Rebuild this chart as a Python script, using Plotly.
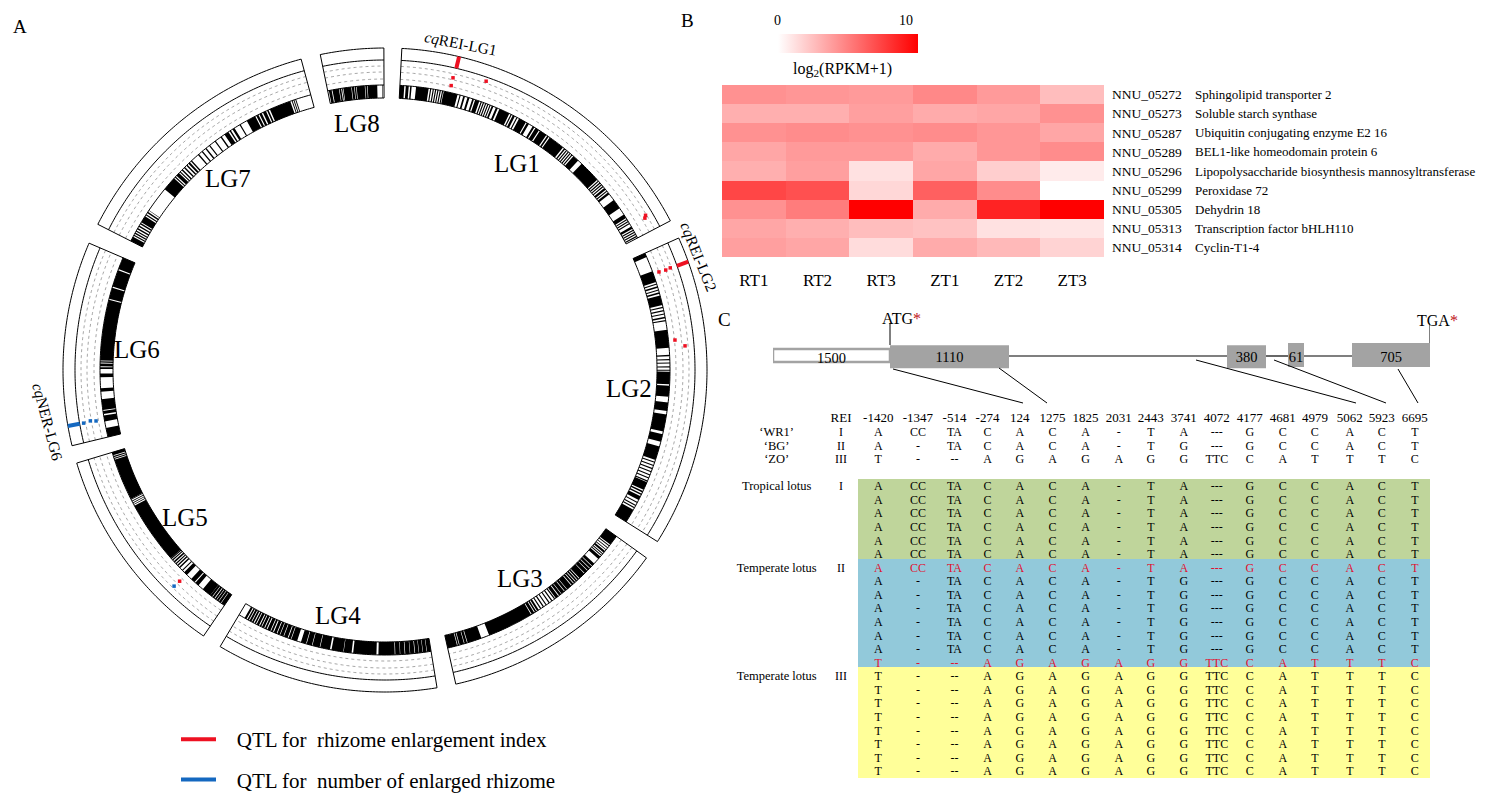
import numpy as np
import plotly.graph_objects as go

W, H = 1501, 805
SERIF = "Liberation Serif"
def px(x): return x / W
def py(y): return 1 - y / H

# ---------- Panel A data ----------
lg_names = ["LG1", "LG2", "LG3", "LG4", "LG5", "LG6", "LG7", "LG8"]
lg_start = [3.0, 65.8, 125.7, 170.7, 214.3, 256.4, 296.9, 348.4]
lg_end = [62.4, 122.2, 167.3, 210.8, 253.2, 293.2, 344.9, 359.8]

# marker blocks along each linkage group, percent of its length
lg1_blocks = [(0,1.5),(2,3),(3.5,4),(5.5,9.8),(10.3,10.7),(11.2,11.6),(12,12.4),(12.8,13.2),(13.6,14),(14.4,14.8),
 (15,19.8),(20.5,20.9),(21.8,22.4),(23.3,24),(25,25.6),(26,27.5),(28,28.4),(28.8,29.2),(29.6,30),(30.4,30.8),
 (31.2,31.6),(32,32.6),(33.5,34.2),(34.8,38.5),(39,39.4),(39.8,40.6),(41.2,41.6),(42.2,44.8),(45.2,46),(47.5,48.2),
 (48.6,50),(50.4,53),(53.4,54),(54.4,60),(60.5,61),(61.4,61.8),(62.2,62.6),(63,63.4),(63.8,64.2),(64.6,66.8),
 (68.4,76),(76.4,76.8),(77.2,77.6),(78,78.4),(78.8,79.2),(79.6,80.4),(80.8,81.2),(81.6,82.4),(84.8,88.2),
 (90.8,92.2),(92.6,93),(93.4,93.8),(94.2,94.6),(95.6,96.4),(96.8,97.2),(97.6,98),(98.4,98.8),(99.2,99.6)]
lg2_blocks = [(0,1.5),(7,11),(11.6,12),(12.6,13.2),(13.8,14.2),(14.8,15.4),(16,19.5),(20.2,20.6),(21.4,21.8),(22.6,23),
 (23.8,24.4),(25,25.4),(28.5,35),(37.5,38),(39,39.4),(40.2,40.6),(41.6,42),(42.8,43.2),(43.5,48),(48.5,52.5),
 (54.5,57.6),(58.8,65),(66,68.8),(70.5,75.5),(76.2,76.6),(77.4,77.8),(78.6,79),(79.8,80.2),(81,81.4),(82.2,82.6),
 (83.4,83.8),(84,87),(87.5,88),(88.5,89),(89.5,91),(91.8,92.2),(93,93.4),(94,94.4),(95,100)]
lg3_blocks = [(0,5),(5.5,6),(6.8,7.2),(8,8.4),(9,10),(10.5,11),(11.5,12),(12.5,14),(17,18.5),(18.8,20),(20.3,21.5),(21.8,23.5),
 (23.8,27),(27.4,28.2),(28.6,29.4),(29.8,30.6),(31,32),(32.4,35),(35.3,36.5),(36.8,38.5),(38.8,40),(40.4,42),(42.4,43),
 (44,44.6),(45.6,46.2),(47.4,48),(49,49.6),(50.6,51.2),(52,53),(53.4,54.2),(54.6,56),(56.4,79),(83,90),(90.3,91.5),
 (91.8,94),(94.3,95),(95.3,100)]
lg4_blocks = [(0,2),(2.2,4),(4.2,6),(6.2,8),(8.3,10.5),(10.7,13),(13.3,15.5),(15.7,18),(18.3,26.5),(27.5,39.2),(40,44),(44.2,50.2),(51,56),
 (56.3,60),(60.3,63),(63.3,66),(68,71),(71.3,72.6),(73,75),(75.3,77),(77.3,78.6),(79,80.5),(81,82),(82.4,84),(84.5,85.4),
 (85.8,87),(87.4,88.2),(88.7,90),(90.4,91.2),(91.7,92.6),(93,94),(94.4,95.2),(95.7,96.8)]
lg5_blocks = [(0,2),(2.3,3.5),(3.8,4.8),(5.1,6),(6.4,7.5),(7.8,9),(9,14),(17,19),(19.6,22),(25,27),(28,28.6),(30,30.8),
 (31.5,32.2),(32.8,33.4),(34,34.8),(35.4,36),(36.4,37),(37,70),(70.6,71),(71.6,72),(72.6,73),(73.6,74),(74,96),(96.4,97),(97.4,98),(98.4,100)]
lg6_blocks = [(0,5),(8.7,12),(12.8,14.5),(15,21),(25,27),(33,35),(37.5,38.5),(39,40.5),(41,41.8),(42.2,75.7),(76.3,82.6),
 (83.2,92.7),(93.3,100)]
lg7_blocks = [(0,2),(2.5,3),(3.4,4),(4.5,5),(5.6,6.2),(6.8,7.4),(8,8.6),(9,12),(12.5,13),(13.6,14.2),(14.8,15),(26,32),
 (32.5,33),(33.5,35),(35.5,36),(36.6,37.2),(38,38.6),(39.4,40),(40.6,41.4),(42,42.6),(46,46.6),(48,48.6),(50,50.6),
 (52,52.5),(55,55.5),(58,58.6),(60,62),(62.6,63.2),(64,65),(67.5,68),(71,75),(75.5,76.5),(77,78),(78.6,80),(80.5,81.2),
 (81.8,91),(91.6,92),(92.4,92.8),(93.2,93.6)]
lg8_blocks = [(2,7),(8.5,20),(21,24),(25.5,27),(28,42),(43,47),(48,50.5),(51.5,66),(67,70),(71,88),(97,98)]
all_blocks = [lg1_blocks, lg2_blocks, lg3_blocks, lg4_blocks, lg5_blocks, lg6_blocks, lg7_blocks, lg8_blocks]

# QTL marks: angle, inner radius, outer radius
rei_track_theta = [13.3, 70.35]
rei_track_r0 = [310, 310]
rei_track_r1 = [322, 322]
ner_track_theta = [260.0]
ner_track_r0 = [310]
ner_track_r1 = [322]
rei_dot_theta = [13.1, 13.1, 19.3, 59.3, 59.7, 70.3, 70.4, 70.3, 84.1, 85.4, 224.2]
rei_dot_r = [300, 292, 306, 303, 301, 303, 298, 291, 291.5, 301, 294.6]
ner_dot_theta = [260.0, 260.2, 260.0, 224.3]
ner_dot_r = [306, 299, 293.4, 302]

# ---------- Panel B data ----------
samples = ["RT1", "RT2", "RT3", "ZT1", "ZT2", "ZT3"]
gene_ids = ["NNU_05272", "NNU_05273", "NNU_05287", "NNU_05289", "NNU_05296", "NNU_05299", "NNU_05305", "NNU_05313", "NNU_05314"]
gene_names = ["Sphingolipid transporter 2", "Soluble starch synthase", "Ubiquitin conjugating enzyme E2 16",
              "BEL1-like homeodomain protein 6", "Lipopolysaccharide biosynthesis mannosyltransferase",
              "Peroxidase 72", "Dehydrin 18", "Transcription factor bHLH110", "Cyclin-T1-4"]
expr = [
 [4.7, 4.5, 4.3, 5.1, 4.3, 2.8],
 [3.4, 3.4, 4.1, 3.6, 3.8, 4.7],
 [4.7, 4.9, 4.7, 4.9, 4.5, 3.8],
 [3.8, 4.3, 4.3, 3.6, 4.5, 4.9],
 [3.4, 4.1, 1.3, 3.8, 2.1, 0.85],
 [7.9, 7.5, 1.7, 6.8, 4.9, 0.0],
 [4.7, 5.6, 10.9, 3.6, 9.4, 10.9],
 [3.8, 3.4, 2.8, 2.6, 1.3, 1.1],
 [4.1, 3.8, 1.5, 3.6, 3.0, 1.9],
]
scale_ticks = [0, 10]

# ---------- Panel C data ----------
gene_start = [0, 117, 454, 515, 579]
gene_len = [117, 119, 39, 16, 78]
gene_text = ["1500", "1110", "380", "61", "705"]
snp_positions = ["-1420", "-1347", "-514", "-274", "124", "1275", "1825", "2031", "2443", "3741", "4072", "4177", "4681", "4979", "5062", "5923", "6695"]
hap_I = ["A", "CC", "TA", "C", "A", "C", "A", "-", "T", "A", "---", "G", "C", "C", "A", "C", "T"]
hap_II = ["A", "-", "TA", "C", "A", "C", "A", "-", "T", "G", "---", "G", "C", "C", "A", "C", "T"]
hap_III = ["T", "-", "--", "A", "G", "A", "G", "A", "G", "G", "TTC", "C", "A", "T", "T", "T", "C"]
black_rows = [(0, hap_I), (1, hap_II), (2, hap_III)] + [(4 + i, hap_I) for i in range(6)] + \
             [(11 + i, hap_II) for i in range(6)] + [(18 + i, hap_III) for i in range(8)]
red_rows = [(10, hap_I), (17, hap_III)]
side_rows = [0, 1, 2, 4, 10, 18]
side_names = ["\u2018WR1\u2019", "\u2018BG\u2019", "\u2018ZO\u2019", "Tropical lotus", "Temperate lotus", "Temperate lotus"]
side_types = ["I", "II", "III", "I", "II", "III"]

# table column slots (33 px per slot, REI column = 0)
col_slots = [1.13, 2.33, 3.44, 4.44, 5.42, 6.41, 7.41, 8.42, 9.39, 10.39, 11.39, 12.39, 13.39, 14.36, 15.42, 16.39, 17.39]

fig = go.Figure()

# ---------- Panel A ----------
outline_t, outline_r, dash_t, dash_r = [], [], [], []
for a, b in zip(lg_start, lg_end):
    arc = list(np.arange(a, b, 0.5)) + [b]
    for r in (322, 310, 285, 272):
        outline_t += arc + [None]
        outline_r += [r] * len(arc) + [None]
    for t in (a, b):
        outline_t += [t, t, None]
        outline_r += [272, 322, None]
    for r in (304, 298, 291):
        dash_t += arc + [None]
        dash_r += [r] * len(arc) + [None]

bar_t, bar_w = [], []
for a, b, blocks in zip(lg_start, lg_end, all_blocks):
    for s, e in blocks:
        bar_t.append(a + (b - a) * (s + e) / 200)
        bar_w.append((b - a) * (e - s) / 100)

fig.add_trace(go.Barpolar(theta=bar_t, width=bar_w, r=[13] * len(bar_t), base=272,
                          marker=dict(color="black", line=dict(width=0)), showlegend=False, subplot="polar"))
fig.add_trace(go.Scatterpolar(theta=dash_t, r=dash_r, mode="lines", line=dict(color="#808080", width=0.7, dash="3px,3px"),
                              showlegend=False, connectgaps=False, subplot="polar"))
fig.add_trace(go.Scatterpolar(theta=outline_t, r=outline_r, mode="lines", line=dict(color="black", width=1),
                              showlegend=False, connectgaps=False, subplot="polar"))

def seg(theta, r0, r1):
    t, r = [], []
    for a, b, c in zip(theta, r0, r1):
        t += [a, a, None]
        r += [b, c, None]
    return t, r

RED, BLUE = "#ee1122", "#1468c0"
t, r = seg(rei_track_theta, rei_track_r0, rei_track_r1)
fig.add_trace(go.Scatterpolar(theta=t, r=r, mode="lines", line=dict(color=RED, width=4), subplot="polar",
                              name="\u00a0\u00a0\u00a0QTL for\u00a0 rhizome enlargement index", legendgroup="a"))
t, r = seg(ner_track_theta, ner_track_r0, ner_track_r1)
fig.add_trace(go.Scatterpolar(theta=t, r=r, mode="lines", line=dict(color=BLUE, width=4), subplot="polar",
                              name="\u00a0\u00a0\u00a0QTL for\u00a0 number of enlarged rhizome", legendgroup="b"))
fig.add_trace(go.Scatterpolar(theta=rei_dot_theta, r=rei_dot_r, mode="markers", subplot="polar", showlegend=False,
                              marker=dict(color=RED, size=3.5, symbol="square")))
fig.add_trace(go.Scatterpolar(theta=ner_dot_theta, r=ner_dot_r, mode="markers", subplot="polar", showlegend=False,
                              marker=dict(color=BLUE, size=3.5, symbol="square")))

# ---------- Panel B ----------
fig.add_trace(go.Heatmap(z=expr, x=samples, y=gene_ids, zmin=0, zmax=10.9, xaxis="x", yaxis="y", xgap=0, ygap=0,
                         colorscale=[[0, "#ffffff"], [1, "#ff0000"]], hoverongaps=False,
                         colorbar=dict(orientation="h", x=px(778), xanchor="left", y=py(53), yanchor="bottom",
                                       len=140, lenmode="pixels", thickness=19, thicknessmode="pixels",
                                       xpad=0, ypad=0, outlinewidth=0, ticks="", tickvals=scale_ticks,
                                       showticklabels=False)))

# ---------- Panel C gene model ----------
gene_mid = [s + l / 2 for s, l in zip(gene_start, gene_len)]
intron_x, intron_y = [], []
for i in range(1, len(gene_start) - 1):
    intron_x += [gene_start[i] + gene_len[i], gene_start[i + 1], None]
    intron_y += [56, 56, None]
fig.add_trace(go.Scatter(x=intron_x, y=intron_y, mode="lines", xaxis="x3", yaxis="y3",
                         line=dict(color="black", width=1.2), showlegend=False))
fig.add_trace(go.Bar(y=[55.5, 56.7, 56.7, 55, 55], x=gene_len, base=gene_start, orientation="h", xaxis="x3", yaxis="y3",
                     width=[13, 23, 23, 24, 24], showlegend=False,
                     marker=dict(color=["white", "#a3a3a3", "#a3a3a3", "#a3a3a3", "#a3a3a3"],
                                 line=dict(color="#a3a3a3", width=[2.5, 0, 0, 0, 0]))))
fig.add_trace(go.Scatter(x=gene_mid, y=[59, 58, 58, 58, 58], mode="text", text=gene_text, xaxis="x3", yaxis="y3",
                         textfont=dict(family=SERIF, size=14.5, color="black"), showlegend=False, cliponaxis=False))

# ---------- Panel C table ----------
def rows_xy(rows):
    xs, ys, ts = [], [], []
    for row, hap in rows:
        xs += col_slots
        ys += [row] * len(hap)
        ts += hap
    return xs, ys, ts

xs, ys, ts = rows_xy(black_rows)
fig.add_trace(go.Scatter(x=xs, y=ys, text=ts, mode="text", xaxis="x2", yaxis="y2", showlegend=False, cliponaxis=False,
                         textfont=dict(family=SERIF, size=12, color="black")))
xs, ys, ts = rows_xy(red_rows)
fig.add_trace(go.Scatter(x=xs, y=ys, text=ts, mode="text", xaxis="x2", yaxis="y2", showlegend=False, cliponaxis=False,
                         textfont=dict(family=SERIF, size=12, color="#e01030")))
fig.add_trace(go.Scatter(x=[0] * len(side_rows), y=side_rows, text=side_types, mode="text", xaxis="x2", yaxis="y2",
                         showlegend=False, cliponaxis=False, textfont=dict(family=SERIF, size=12, color="black")))
fig.add_trace(go.Scatter(x=[-1.95] * len(side_rows), y=side_rows, text=side_names, mode="text", xaxis="x2", yaxis="y2",
                         showlegend=False, cliponaxis=False, textfont=dict(family=SERIF, size=12.5, color="black")))

# ---------- layout ----------
def slot_of(p): return (p - 841) / 33
def row_of(p): return (p - 433) / 13.57
shapes = []
for top, bottom, col in [(479, 559, "#bfd59b"), (559, 667, "#92c9da"), (667, 778, "#ffff99")]:
    shapes.append(dict(type="rect", xref="x2", yref="y2", x0=slot_of(858), x1=slot_of(1430), y0=row_of(top), y1=row_of(bottom),
                       fillcolor=col, line=dict(width=0), layer="below"))
gx = lambda p: p - 773
gy = lambda p: p - 300
for (x0, y0, x1, y1) in [(893, 369, 1023, 403), (999, 368, 1047, 403), (1196, 360, 1356, 403),
                         (1274, 360, 1386, 403), (1398, 369, 1418, 403), (890, 323, 890, 345), (1430, 323, 1430, 343)]:
    shapes.append(dict(type="line", xref="x3", yref="y3", x0=gx(x0), x1=gx(x1), y0=gy(y0), y1=gy(y1),
                       line=dict(color="black", width=1)))

annotations = []
def note(x, y, text, size=13, angle=0, anchor="center", color="black"):
    annotations.append(dict(x=px(x), y=py(y), xref="paper", yref="paper", text=text, showarrow=False, textangle=angle,
                            xanchor=anchor, yanchor="middle", font=dict(family=SERIF, size=size, color=color)))

for name, (x, y) in zip(lg_names, [(517, 163), (629, 388), (520, 578), (338, 615), (185, 517), (137, 350), (228, 178), (357, 124)]):
    note(x, y, name, size=25)
note(461, 44, "<i>cq</i>REI-LG1", size=15.5, angle=11)
note(699, 256, "<i>cq</i>REI-LG2", size=15.5, angle=68)
note(48, 421, "<i>cq</i>NER-LG6", size=15.5, angle=75)
note(20, 27, "A", size=19)
note(687, 20, "B", size=19)
note(724, 319, "C", size=19)
note(842, 70, "log<sub>2</sub>(RPKM+1)", size=16)
note(777, 21, str(scale_ticks[0]), size=14)
note(906, 21, str(scale_ticks[1]), size=14)
note(901, 318, "ATG<span style='color:#c01020'>*</span>", size=16)
note(1437, 320, "TGA<span style='color:#c01020'>*</span>", size=16)
for name, row in zip(gene_names, range(9)):
    annotations.append(dict(x=px(1193), y=row, xref="paper", yref="y", text=name, showarrow=False, xanchor="left",
                            yanchor="middle", font=dict(family=SERIF, size=13, color="black")))

hidden = dict(visible=False, showgrid=False, zeroline=False)
fig.update_layout(
    width=W, height=H, margin=dict(l=0, r=0, t=0, b=0), paper_bgcolor="white", plot_bgcolor="rgba(0,0,0,0)",
    font=dict(family=SERIF, color="black"), barmode="overlay", shapes=shapes, annotations=annotations,
    polar=dict(domain=dict(x=[px(385 - 330), px(385 + 330)], y=[py(370 + 330), py(370 - 330)]),
               bgcolor="rgba(0,0,0,0)",
               radialaxis=dict(range=[0, 330], visible=False, showgrid=False),
               angularaxis=dict(rotation=90, direction="clockwise", visible=False, showgrid=False)),
    showlegend=True,
    legend=dict(x=px(176), y=py(719), xanchor="left", yanchor="top", font=dict(family=SERIF, size=21), bgcolor="rgba(0,0,0,0)",
                itemwidth=35, tracegroupgap=10, borderwidth=0),
    xaxis=dict(domain=[px(722), px(1104)], anchor="y", showgrid=False, zeroline=False, ticks="", ticklabelstandoff=11,
               tickfont=dict(family=SERIF, size=17), showline=False),
    yaxis=dict(domain=[py(257), py(85)], anchor="x", side="right", autorange="reversed", showgrid=False, zeroline=False,
               ticks="", ticklabelstandoff=7, tickfont=dict(family=SERIF, size=13.5), showline=False),
    xaxis2=dict(domain=[px(710), px(1440)], range=[slot_of(710), slot_of(1440)], anchor="y2", side="top", showgrid=False,
                zeroline=False, ticks="", tickmode="array", tickvals=[0] + col_slots, ticktext=["REI"] + snp_positions,
                tickfont=dict(family=SERIF, size=13), showline=False, tickangle=0),
    yaxis2=dict(domain=[py(785), py(426)], range=[row_of(785), row_of(426)], anchor="x2", **hidden),
    xaxis3=dict(domain=[px(773), px(1430)], range=[0, 657], anchor="y3", **hidden),
    yaxis3=dict(domain=[py(410), py(300)], range=[110, 0], anchor="x3", **hidden),
)

fig.write_html("out.html", config={"displayModeBar": False},
               post_script="document.body.style.margin='0';document.documentElement.style.overflow='hidden';")
